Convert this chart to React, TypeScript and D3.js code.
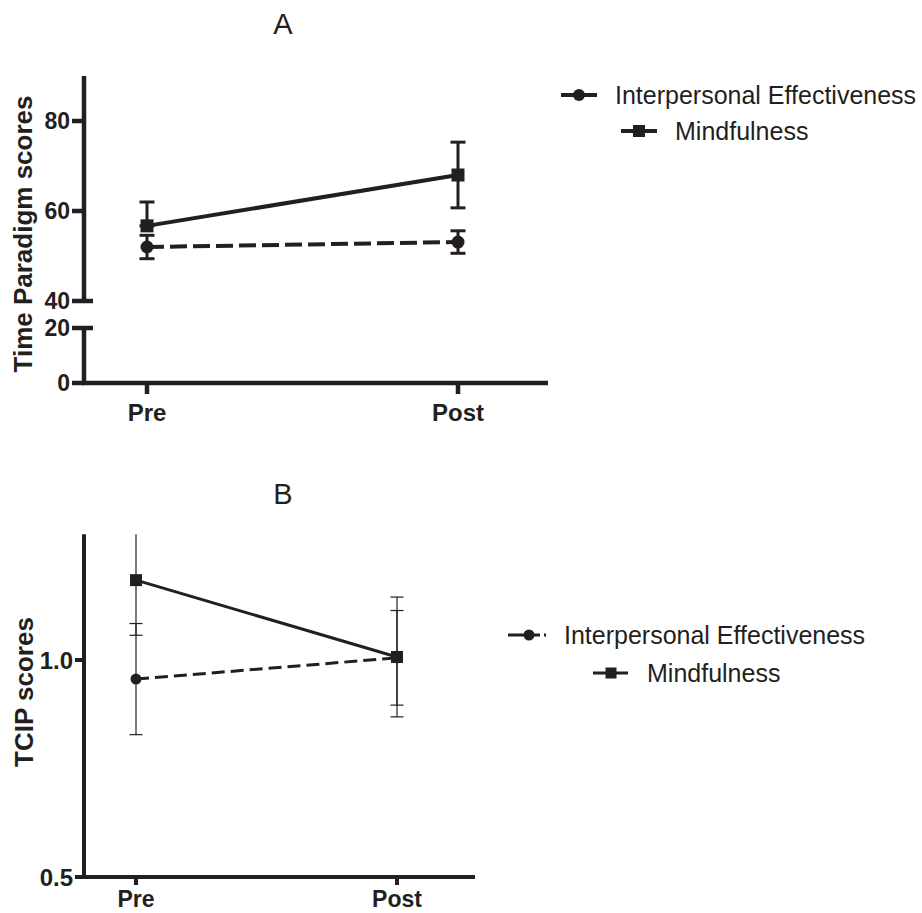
import React from 'react';
import * as d3 from 'd3';

// conditions on the x axis
const phases = ['Pre', 'Post'];
const seriesNames = ['Interpersonal Effectiveness', 'Mindfulness'];

// panel A: Time Paradigm scores (mean, error)
const timeInterpersonal = [52.0, 53.1];
const timeInterpersonalErr = [2.6, 2.5];
const timeMindful = [56.7, 68.0];
const timeMindfulErr = [5.3, 7.3];
const timeTicksUpper = [40, 60, 80];
const timeTicksLower = [0, 20];

// panel B: TCIP scores
const tcipInterpersonal = [0.956, 1.005];
const tcipInterpersonalErr = [0.128, 0.109];
const tcipMindful = [1.184, 1.007];
const tcipMindfulErr = [0.127, 0.138];
const tcipTicks = [0.5, 1.0];

const FONT = "Arial, 'Liberation Sans', Helvetica, sans-serif";
const INK = '#231f20';

function Square({ x, y, s }: { x: number; y: number; s: number }) {
  return <rect x={x - s / 2} y={y - s / 2} width={s} height={s} fill={INK} />;
}

function ErrBar({ x, y0, y1, w, sw }: any) {
  return (
    <g stroke={INK} strokeWidth={sw}>
      <line x1={x} x2={x} y1={y0} y2={y1} />
      <line x1={x - w / 2} x2={x + w / 2} y1={y0} y2={y0} />
      <line x1={x - w / 2} x2={x + w / 2} y1={y1} y2={y1} />
    </g>
  );
}

function PanelA() {
  const x = d3.scaleLinear().domain([0, 1]).range([147, 458]);
  const yU = d3.scaleLinear().domain([40, 90]).range([301, 76]);
  const yL = d3.scaleLinear().domain([0, 20]).range([383, 328]);
  const y = (v: number) => (v >= 40 ? yU(v) : yL(Math.min(v, 20)));
  const axX = 84;
  const line = d3.line<number>().x((_, i) => x(i)).y((d) => y(d));

  return (
    <g>
      <text x={283} y={34} fontSize={29} textAnchor="middle" fontFamily={FONT} fill={INK}>A</text>
      {/* axes */}
      <g stroke={INK} strokeWidth={4.5} fill="none">
        <line x1={axX} x2={axX} y1={yU(90)} y2={yU(40)} />
        <line x1={axX} x2={axX} y1={yL(20)} y2={yL(0)} />
        <line x1={axX - 2} x2={548} y1={yL(0)} y2={yL(0)} />
        {timeTicksUpper.map((t) => (
          <line key={'u' + t} x1={72} x2={t === 40 ? 93 : axX} y1={yU(t)} y2={yU(t)} />
        ))}
        {timeTicksLower.map((t) => (
          <line key={'l' + t} x1={72} x2={t === 20 ? 93 : axX} y1={yL(t)} y2={yL(t)} />
        ))}
        {phases.map((p, i) => (
          <line key={p} x1={x(i)} x2={x(i)} y1={yL(0)} y2={yL(0) + 11} />
        ))}
      </g>
      <g fontFamily={FONT} fontWeight="bold" fontSize={23} fill={INK} textAnchor="end">
        {timeTicksUpper.map((t) => (
          <text key={t} x={70} y={yU(t)} dy="0.36em">{t}</text>
        ))}
        {timeTicksLower.map((t) => (
          <text key={t} x={70} y={yL(t)} dy="0.36em">{t}</text>
        ))}
      </g>
      <g fontFamily={FONT} fontWeight="bold" fontSize={24} fill={INK} textAnchor="middle">
        {phases.map((p, i) => (
          <text key={p} x={x(i)} y={421}>{p}</text>
        ))}
      </g>
      <text transform="translate(32,234) rotate(-90)" textAnchor="middle" fontFamily={FONT}
        fontWeight="bold" fontSize={26} fill={INK}>Time Paradigm scores</text>

      {/* series */}
      <path d={line(timeInterpersonal) || ''} fill="none" stroke={INK} strokeWidth={4} strokeDasharray="17,6" />
      <path d={line(timeMindful) || ''} fill="none" stroke={INK} strokeWidth={4} />
      {timeInterpersonal.map((v, i) => (
        <g key={'ie' + i}>
          <ErrBar x={x(i)} y0={y(v + timeInterpersonalErr[i])} y1={y(v - timeInterpersonalErr[i])} w={15} sw={3} />
          <circle cx={x(i)} cy={y(v)} r={6.5} fill={INK} />
        </g>
      ))}
      {timeMindful.map((v, i) => (
        <g key={'m' + i}>
          <ErrBar x={x(i)} y0={y(v + timeMindfulErr[i])} y1={i === 0 ? y(v) : y(v - timeMindfulErr[i])} w={15} sw={3} />
          <Square x={x(i)} y={y(v)} s={13} />
        </g>
      ))}

      {/* legend */}
      <g stroke={INK} strokeWidth={4}>
        <line x1={561} x2={597} y1={95} y2={95} />
        <line x1={621} x2={657} y1={131} y2={131} />
      </g>
      <circle cx={579} cy={95} r={6} fill={INK} />
      <Square x={639} y={131} s={12} />
      <g fontFamily={FONT} fontSize={25} fill={INK}>
        <text x={615} y={95} dy="0.36em">{seriesNames[0]}</text>
        <text x={675} y={131} dy="0.36em">{seriesNames[1]}</text>
      </g>
    </g>
  );
}

function PanelB() {
  const x = d3.scaleLinear().domain([0, 1]).range([136, 397]);
  const y = d3.scaleLinear().domain([0.5, 1.0]).range([877, 660]);
  const top = 1.29;
  const clip = (v: number) => y(Math.min(v, top));
  const axX = 84;
  const line = d3.line<number>().x((_, i) => x(i)).y((d) => y(d));

  return (
    <g>
      <text x={283} y={504} fontSize={29} textAnchor="middle" fontFamily={FONT} fill={INK}>B</text>
      <g stroke={INK} strokeWidth={4} fill="none">
        <line x1={axX} x2={axX} y1={y(top)} y2={y(0.5)} />
        <line x1={axX - 2} x2={475} y1={y(0.5)} y2={y(0.5)} />
        {tcipTicks.map((t) => (
          <line key={t} x1={75} x2={axX} y1={y(t)} y2={y(t)} />
        ))}
        {phases.map((p, i) => (
          <line key={p} x1={x(i)} x2={x(i)} y1={y(0.5)} y2={y(0.5) + 8} />
        ))}
      </g>
      <g fontFamily={FONT} fontWeight="bold" fontSize={24} fill={INK} textAnchor="end">
        {tcipTicks.map((t) => (
          <text key={t} x={73} y={y(t)} dy="0.36em">{d3.format('.1f')(t)}</text>
        ))}
      </g>
      <g fontFamily={FONT} fontWeight="bold" fontSize={23} fill={INK} textAnchor="middle">
        {phases.map((p, i) => (
          <text key={p} x={x(i)} y={907}>{p}</text>
        ))}
      </g>
      <text transform="translate(33,692) rotate(-90)" textAnchor="middle" fontFamily={FONT}
        fontWeight="bold" fontSize={26} fill={INK}>TCIP scores</text>

      {tcipInterpersonal.map((v, i) => (
        <ErrBar key={'ie' + i} x={x(i)} y0={clip(v + tcipInterpersonalErr[i])} y1={y(v - tcipInterpersonalErr[i])} w={13} sw={1.2} />
      ))}
      {tcipMindful.map((v, i) => (
        <g key={'m' + i}>
          {v + tcipMindfulErr[i] < top ? (
            <ErrBar x={x(i)} y0={clip(v + tcipMindfulErr[i])} y1={y(v - tcipMindfulErr[i])} w={13} sw={1.2} />
          ) : (
            <g>
              <line x1={x(i)} x2={x(i)} y1={y(top)} y2={y(v - tcipMindfulErr[i])} stroke={INK} strokeWidth={1.2} />
              <line x1={x(i) - 6.5} x2={x(i) + 6.5} y1={y(v - tcipMindfulErr[i])} y2={y(v - tcipMindfulErr[i])} stroke={INK} strokeWidth={1.2} />
            </g>
          )}
        </g>
      ))}
      <path d={line(tcipInterpersonal) || ''} fill="none" stroke={INK} strokeWidth={3} strokeDasharray="13,6" />
      <path d={line(tcipMindful) || ''} fill="none" stroke={INK} strokeWidth={3} />
      {tcipInterpersonal.map((v, i) => (
        <circle key={'c' + i} cx={x(i)} cy={y(v)} r={5.5} fill={INK} />
      ))}
      {tcipMindful.map((v, i) => (
        <Square key={'s' + i} x={x(i)} y={y(v)} s={12} />
      ))}

      {/* legend */}
      <line x1={508} x2={546} y1={635} y2={635} stroke={INK} strokeWidth={3} strokeDasharray="22,4,6,4,3,10" />
      <circle cx={529} cy={635} r={5.5} fill={INK} />
      <line x1={593} x2={628} y1={673} y2={673} stroke={INK} strokeWidth={3} />
      <Square x={611} y={673} s={11} />
      <g fontFamily={FONT} fontSize={25} fill={INK}>
        <text x={564} y={635} dy="0.36em">{seriesNames[0]}</text>
        <text x={647} y={673} dy="0.36em">{seriesNames[1]}</text>
      </g>
    </g>
  );
}

export default function App() {
  return (
    <svg width={922} height={913} style={{ position: 'absolute', left: 0, top: 0, background: '#fff' }}>
      <rect width={922} height={913} fill="#fff" />
      <PanelA />
      <PanelB />
    </svg>
  );
}
